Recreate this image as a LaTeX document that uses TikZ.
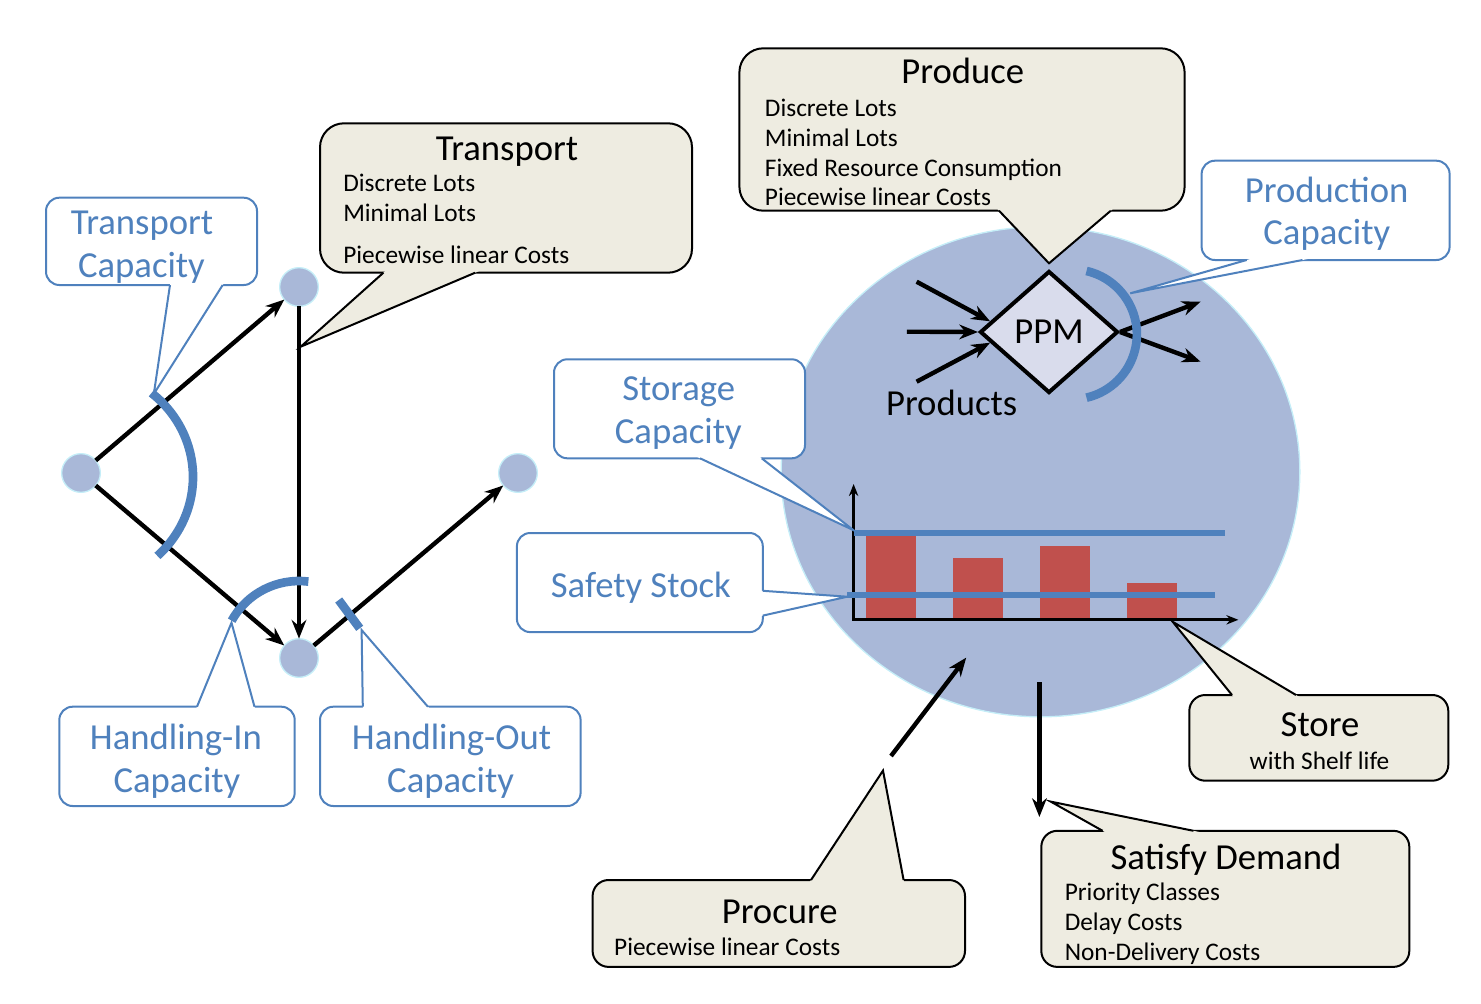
\documentclass[tikz,border=0pt]{standalone}
\usepackage{fontspec}
\setmainfont{Carlito}
\usetikzlibrary{arrows.meta,shapes.geometric,calc,fit}

\definecolor{capblue}{HTML}{4F81BD}
\definecolor{sitefill}{HTML}{A9B8D8}
\definecolor{siteline}{HTML}{C5EEF8}
\definecolor{notefill}{HTML}{EEECE1}
\definecolor{barred}{HTML}{C0504D}
\definecolor{ppmfill}{HTML}{D9DCEC}

\begin{document}
\begin{tikzpicture}[x=0.75pt,y=0.75pt,yscale=-1,
	site/.style={circle,fill=sitefill,draw=siteline,line width=1pt,minimum size=29pt,inner sep=0pt,outer sep=0pt},
	flow/.style={line width=3.3pt,-{Stealth[length=14pt,width=11pt]}},
	bow/.style={draw=capblue,line width=6.5pt},
	level/.style={draw=capblue,line width=4.5pt},
	note/.style={draw=black,fill=notefill,line width=1.5pt,rounded corners=12pt,inner sep=0pt},
	capnote/.style={draw=capblue,fill=white,line width=1.5pt,rounded corners=10pt,inner sep=0pt},
	notetip/.style={draw=black,line width=1.5pt},
	captip/.style={draw=capblue,line width=1.5pt},
	big/.style={font=\fontsize{27.5}{32}\selectfont,anchor=base,inner sep=0pt},
	small/.style={font=\fontsize{19}{22}\selectfont,anchor=base west,inner sep=0pt},
	captext/.style={big,text=capblue}]
			\useasboundingbox (0,0) rectangle (1481,1003);

			% network
			\node[site] (locw) at (81,473) {};
			\node[site] (locn) at (299,287) {};
			\node[site] (locs) at (299,658) {};
			\node[site] (loce) at (518,473) {};
			\draw[flow] (locw) -- (locn);
			\draw[flow] (locw) -- (locs);
			\draw[flow] (locn) -- (locs);
			\draw[flow] (locs) -- (loce);
			\draw[bow] (151.5,393) arc[start angle=-51,end angle=47,x radius=112,y radius=108];
			\draw[bow] (locs.center) ++(-151:77) arc[start angle=-151,end angle=-83,radius=77];
			\draw[bow] (338.7,600) -- (359.7,628.3);

			% plant
			\node[ellipse,fill=sitefill,draw=siteline,line width=1pt,minimum width=389pt,minimum height=367.5pt,inner sep=0pt] (plant) at (1040.5,471.8) {};
			\node[diamond,draw=black,fill=ppmfill,line width=3pt,aspect=1.13,minimum width=103.5pt,minimum height=91.5pt,inner sep=0pt,font=\fontsize{27.5}{32}\selectfont] (ppm) at (1049,332) {PPM};
			\coordinate (in1) at (916.6,281.7);
			\coordinate (in2) at (906.9,331.7);
			\coordinate (in3) at (916.6,381.7);
			\coordinate (out1) at (1200.6,301.7);
			\coordinate (out2) at (1200.6,361.7);
			\draw[flow] (in1) -- ($(ppm.west)!0.17!(ppm.north)$);
			\draw[flow] (in2) -- (ppm.west);
			\draw[flow] (in3) -- ($(ppm.west)!0.17!(ppm.south)$);
			\draw[flow] (ppm.east) -- (out1);
			\draw[flow] (ppm.east) -- (out2);
			\draw[bow] (1086.5,271) arc[start angle=-77,end angle=77,radius=65];
			\draw (951.6,415) node[big] (products) {Products};

			% stock chart
			\fill[barred] (866,535.7) rectangle (916,619.8);
			\fill[barred] (953,558.1) rectangle (1003,619.8);
			\fill[barred] (1040,545.7) rectangle (1090,619.8);
			\fill[barred] (1127,582.9) rectangle (1177,619.8);
			\draw[line width=2pt,{Stealth[length=9pt,width=7pt]}-{Stealth[length=9pt,width=7pt]}] (853.6,484) -- (853.6,619.8) -- (1238.4,619.8);
			\draw[level] (853.6,533) -- (1224.7,533);
			\draw[level] (847.3,595) -- (1214.6,595);

			\coordinate (procfrom) at (891,756);
			\coordinate (procto) at (966.2,657.6);
			\coordinate (dmdfrom) at (1039.4,682);
			\coordinate (dmdto) at (1039.4,817);
			\draw[flow] (procfrom) -- (procto);
			\draw[flow] (dmdfrom) -- (dmdto);

			% transport capacity
			\node[capnote,fit={(46,197.7) (257,285)}] (transcap) {};
			\coordinate (transcaptip) at (153.8,394);
			\fill[white] ($(170,285)!-8pt!(transcaptip)$) -- (transcaptip) -- ($(222.7,285)!-8pt!(transcaptip)$) -- cycle;
			\draw[captip] (170,285) -- (transcaptip) -- (222.7,285);
			\draw (142,234) node[captext] (transcapa) {Transport};
			\draw (141.5,277) node[captext] (transcapb) {Capacity};

			% transport
			\node[note,rounded corners=18pt,fit={(320,123.3) (692,272.7)}] (transnote) {};
			\coordinate (transtip) at (300.7,346.7);
			\fill[notefill] ($(383.4,272.7)!-8pt!(transtip)$) -- (transtip) -- ($(475.2,272.7)!-8pt!(transtip)$) -- cycle;
			\draw[notetip] (383.4,272.7) -- (transtip) -- (475.2,272.7);
			\draw (507,160.3) node[big] (transtitle) {Transport};
			\draw (343,191.7) node[small] (transa) {Discrete Lots};
			\draw (343,221.7) node[small] (transb) {Minimal Lots};
			\draw (343,263.7) node[small] (transc) {Piecewise linear Costs};

			% produce
			\node[note,rounded corners=18pt,fit={(739.4,48.3) (1184.6,210.7)}] (prodnote) {};
			\coordinate (prodtip) at (1049,263.3);
			\fill[notefill] ($(999,210.7)!-8pt!(prodtip)$) -- (prodtip) -- ($(1110.8,210.7)!-8pt!(prodtip)$) -- cycle;
			\draw[notetip] (999,210.7) -- (prodtip) -- (1110.8,210.7);
			\draw (962.7,83.7) node[big] (prodtitle) {Produce};
			\draw (764.7,116) node[small] (proda) {Discrete Lots};
			\draw (764.7,146) node[small] (prodb) {Minimal Lots};
			\draw (764.7,176) node[small] (prodc) {Fixed Resource Consumption};
			\draw (764.7,205.5) node[small] (prodd) {Piecewise linear Costs};

			% production capacity
			\node[capnote,fit={(1201.6,160.7) (1449.6,260)}] (prodcap) {};
			\coordinate (prodcaptip) at (1130.2,293.3);
			\fill[white] ($(1246.7,260)!-8pt!(prodcaptip)$) -- (prodcaptip) -- ($(1302.5,260)!-8pt!(prodcaptip)$) -- cycle;
			\draw[captip] (1246.7,260) -- (prodcaptip) -- (1302.5,260);
			\draw (1326.6,202) node[captext] (prodcapa) {Production};
			\draw (1326.8,244.5) node[captext] (prodcapb) {Capacity};

			% storage capacity
			\node[capnote,fit={(554,359.3) (805,458.3)}] (storcap) {};
			\coordinate (storcaptip) at (853.5,530.2);
			\fill[white] ($(700,458.3)!-8pt!(storcaptip)$) -- (storcaptip) -- ($(761.7,458.3)!-8pt!(storcaptip)$) -- cycle;
			\draw[captip] (700,458.3) -- (storcaptip) -- (761.7,458.3);
			\draw (678.7,400.3) node[captext] (storcapa) {Storage};
			\draw (678.3,443.7) node[captext] (storcapb) {Capacity};

			% safety stock
			\node[capnote,fit={(516.9,533) (762.8,632.1)}] (safety) {};
			\coordinate (safetytip) at (847.3,596.7);
			\fill[white] ($(762.8,590.8)!-8pt!(safetytip)$) -- (safetytip) -- ($(762.8,615.6)!-8pt!(safetytip)$) -- cycle;
			\draw[captip] (762.8,590.8) -- (safetytip) -- (762.8,615.6);
			\draw (640.8,597.7) node[captext] (safetya) {Safety Stock};

			% store
			\node[note,fit={(1189.3,695) (1448.3,780.7)}] (storenote) {};
			\coordinate (storetip) at (1172.7,621.8);
			\fill[notefill] ($(1232,695)!-8pt!(storetip)$) -- (storetip) -- ($(1296,695)!-8pt!(storetip)$) -- cycle;
			\draw[notetip] (1232,695) -- (storetip) -- (1296,695);
			\draw (1320,736) node[big] (storetitle) {Store};
			\draw (1319.5,769.3) node[small,anchor=base] (storea) {with Shelf life};

			% procure
			\node[note,fit={(592.6,880) (965,966.9)}] (procnote) {};
			\coordinate (proctip) at (883,770.6);
			\fill[notefill] ($(811,880)!-8pt!(proctip)$) -- (proctip) -- ($(903.6,880)!-8pt!(proctip)$) -- cycle;
			\draw[notetip] (811,880) -- (proctip) -- (903.6,880);
			\draw (779.7,923) node[big] (proctitle) {Procure};
			\draw (613.9,955.8) node[small] (proca) {Piecewise linear Costs};

			% satisfy demand
			\node[note,fit={(1041.3,830.8) (1409.3,966.9)}] (dmdnote) {};
			\coordinate (dmdtip) at (1050.7,801.6);
			\fill[notefill] ($(1102.6,830.8)!-8pt!(dmdtip)$) -- (dmdtip) -- ($(1193.4,830.8)!-8pt!(dmdtip)$) -- cycle;
			\draw[notetip] (1102.6,830.8) -- (dmdtip) -- (1193.4,830.8);
			\draw (1226,869) node[big] (dmdtitle) {Satisfy Demand};
			\draw (1064.5,900.7) node[small] (dmda) {Priority Classes};
			\draw (1064.5,930.7) node[small] (dmdb) {Delay Costs};
			\draw (1064.5,960.3) node[small] (dmdc) {Non-Delivery Costs};

			% handling capacities
			\node[capnote,fit={(59.3,706.7) (294.7,806)}] (hincap) {};
			\coordinate (hintip) at (231.5,622.7);
			\fill[white] ($(197,706.7)!-8pt!(hintip)$) -- (hintip) -- ($(254.5,706.7)!-8pt!(hintip)$) -- cycle;
			\draw[captip] (197,706.7) -- (hintip) -- (254.5,706.7);
			\draw (176,749.3) node[captext] (hincapa) {Handling-In};
			\draw (177,792.7) node[captext] (hincapb) {Capacity};

			\node[capnote,fit={(320,706.7) (580.6,806)}] (houtcap) {};
			\coordinate (houttip) at (361.6,630);
			\fill[white] ($(362.8,706.7)!-8pt!(houttip)$) -- (houttip) -- ($(427.9,706.7)!-8pt!(houttip)$) -- cycle;
			\draw[captip] (362.8,706.7) -- (houttip) -- (427.9,706.7);
			\draw (451.6,749.3) node[captext] (houtcapa) {Handling-Out};
			\draw (450.6,792.7) node[captext] (houtcapb) {Capacity};
\end{tikzpicture}
\end{document}
